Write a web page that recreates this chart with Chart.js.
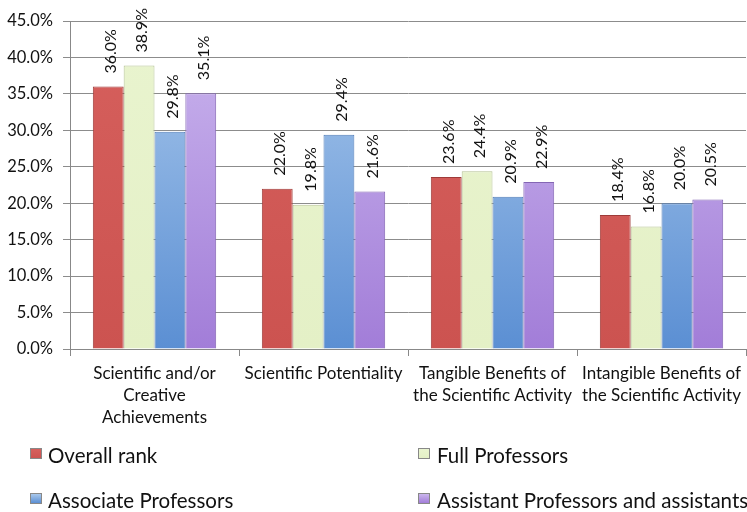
<!DOCTYPE html>
<html>
<head>
<meta charset="utf-8">
<script src="https://cdn.jsdelivr.net/npm/chart.js@4.4.1/dist/chart.umd.min.js"></script>
<style>
  body { margin: 0; background: #fff; }
  #wrap { position: relative; width: 747px; height: 512px; overflow: hidden; }
  #legend { position: absolute; left: 0; top: 0; width: 747px; height: 512px; pointer-events: none;
            font-family: Lato, "Open Sans", sans-serif; font-size: 20.5px; color: #111; }
  .lg { position: absolute; white-space: nowrap; line-height: 24px; }
  .lg i { position: absolute; top: 5px; width: 12px; height: 11px; border: 1px solid #888; box-sizing: border-box; }
</style>
</head>
<body>
<div id="wrap">
  <canvas id="chartDiv" width="747" height="512"></canvas>
  <div id="legend"></div>
</div>
<script>
// categories and series
var categories = [
	["Scientific and/or", "Creative", "Achievements"],
	"Scientific Potentiality",
	["Tangible Benefits of", "the Scientific Activity"],
	["Intangible Benefits of", "the Scientific Activity"]
];
var seriesNames = ["Overall rank", "Full Professors", "Associate Professors", "Assistant Professors and assistants"];
var overallRank = [36.0, 22.0, 23.6, 18.4];
var fullProfessors = [38.9, 19.8, 24.4, 16.8];
var associateProfessors = [29.8, 29.4, 20.9, 20.0];
var assistantProfessors = [35.1, 21.6, 22.9, 20.5];
var yTicks = [0, 5, 10, 15, 20, 25, 30, 35, 40, 45];

// top / bottom colour of each series (Excel style shading)
var topColors = ["#d6605d", "#e9f4cf", "#a9c8ec", "#cbb6ee"];
var bottomColors = ["#cc5350", "#e4f0c6", "#5b8fd3", "#a27dd8"];
var edges = ["#9e3b39", "#b5c294", "#4f7cb8", "#8466b4"];
// legend: [marker x, text x, row center y]
var legendPos = [[30, 48, 455], [418, 437, 455], [30, 48, 500], [418, 437, 500]];

// rotated value labels above each bar
var barLabels = {
	id: "barLabels",
	afterDatasetsDraw: function(chart) {
		var ctx = chart.ctx;
		ctx.save();
		ctx.font = "16px Lato, 'Open Sans', sans-serif";
		ctx.fillStyle = "#111";
		ctx.textAlign = "left";
		ctx.textBaseline = "middle";
		chart.data.datasets.forEach(function(ds, i) {
			chart.getDatasetMeta(i).data.forEach(function(bar, j) {
				ctx.save();
				ctx.translate(bar.x + 3, bar.y - 13);
				ctx.rotate(-Math.PI / 2);
				ctx.fillText(ds.data[j].toFixed(1) + "%", 0, 0);
				ctx.restore();
			});
		});
		ctx.restore();
	}
};

function shade(i) {
	return function(context) {
		var area = context.chart.chartArea;
		if (!area) return bottomColors[i];
		var g = context.chart.ctx.createLinearGradient(0, area.top, 0, area.bottom);
		g.addColorStop(0, topColors[i]);
		g.addColorStop(1, bottomColors[i]);
		return g;
	};
}

var allSeries = [overallRank, fullProfessors, associateProfessors, assistantProfessors];
var datasets = allSeries.map(function(vals, i) {
	return {
		label: seriesNames[i],
		data: vals,
		backgroundColor: shade(i),
		borderColor: edges[i],
		borderWidth: 1,
		categoryPercentage: 0.73,
		barPercentage: 1.0
	};
});

var myBarChart = new Chart(document.getElementById("chartDiv"), {
	type: "bar",
	data: { labels: categories, datasets: datasets },
	plugins: [barLabels],
	options: {
		responsive: false,
		animation: false,
		layout: { padding: { top: 21, right: 0, left: 0, bottom: 0 } },
		plugins: { legend: { display: false }, tooltip: { enabled: false } },
		scales: {
			x: {
				grid: { display: true, drawOnChartArea: false, offset: true, color: "#888", tickLength: 7 },
				border: { color: "#888" },
				ticks: { color: "#111", padding: 6, maxRotation: 0, autoSkip: false,
					font: { family: "Lato, 'Open Sans', sans-serif", size: 17, lineHeight: 1.3 } },
				afterFit: function(s) { s.height = 163; }
			},
			y: {
				min: 0, max: 45,
				afterBuildTicks: function(s) { s.ticks = yTicks.map(function(v) { return { value: v }; }); },
				grid: { color: "#8c8c8c", tickLength: 7 },
				border: { color: "#888" },
				ticks: { color: "#111", padding: 10,
					font: { family: "Lato, 'Open Sans', sans-serif", size: 16.5 },
					callback: function(v) { return v.toFixed(1) + "%"; } },
				afterFit: function(s) { s.width = 70; }
			}
		}
	}
});

// legend laid out in two columns like the original
var legendDiv = document.getElementById("legend");
seriesNames.forEach(function(name, i) {
	var p = legendPos[i];
	var el = document.createElement("div");
	el.className = "lg";
	el.style.left = p[1] + "px";
	el.style.top = (p[2] - 12) + "px";
	el.innerHTML = '<i style="left:' + (p[0] - p[1]) + 'px;background:linear-gradient(' +
		topColors[i] + ',' + bottomColors[i] + ')"></i>' + name;
	legendDiv.appendChild(el);
});
</script>
</body>
</html>
